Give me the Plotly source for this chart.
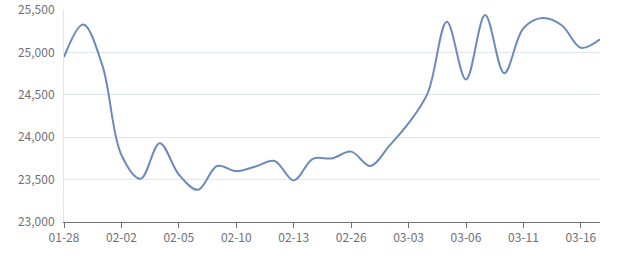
import plotly.graph_objects as go

dates = ["01-28", "01-29", "01-30", "02-02", "02-03", "02-04", "02-05", "02-06", "02-07",
         "02-10", "02-11", "02-12", "02-13", "02-14", "02-25", "02-26", "02-27", "02-28",
         "03-03", "03-04", "03-05", "03-06", "03-07", "03-10", "03-11", "03-12", "03-13",
         "03-16", "03-17"]
prices = [24945, 25330, 24850, 23790, 23510, 23930, 23560, 23380, 23660,
          23600, 23655, 23720, 23490, 23745, 23750, 23830, 23660, 23900,
          24165, 24520, 25360, 24680, 25440, 24755, 25285, 25405, 25320,
          25055, 25155]
tick_labels = dates[::3]
y_ticks = [23000, 23500, 24000, 24500, 25000, 25500]

fig = go.Figure()
fig.add_trace(go.Scatter(
    x=dates, y=prices, mode="lines",
    line=dict(color="#6b8bbd", width=2, shape="spline", smoothing=1.0),
    hoverinfo="x+y",
))

font_color = "#6E7079"
fig.update_layout(
    width=640, height=270,
    margin=dict(l=64, r=40, t=10, b=48, autoexpand=False),
    paper_bgcolor="white", plot_bgcolor="white",
    showlegend=False,
    font=dict(family="Noto Sans CJK SC, Noto Sans, sans-serif", size=12, color=font_color),
    xaxis=dict(
        type="category",
        range=[0, len(dates) - 1],
        tickmode="array", tickvals=tick_labels, ticktext=tick_labels,
        showgrid=False, zeroline=False, automargin=False,
        showline=True, linecolor="#6E7079", linewidth=1,
        ticks="outside", ticklen=5, tickcolor="#6E7079",
        tickfont=dict(size=12, color=font_color),
    ),
    yaxis=dict(
        range=[23000, 25500],
        tickmode="array", tickvals=y_ticks,
        tickformat=",d", automargin=False,
        showgrid=True, gridcolor="#E0E6F1", gridwidth=1,
        zeroline=False,
        showline=True, linecolor="#E0E6F1", linewidth=1,
        ticks="", ticklabelstandoff=6,
        tickfont=dict(size=12, color=font_color),
    ),
)

fig.write_html("out.html")
